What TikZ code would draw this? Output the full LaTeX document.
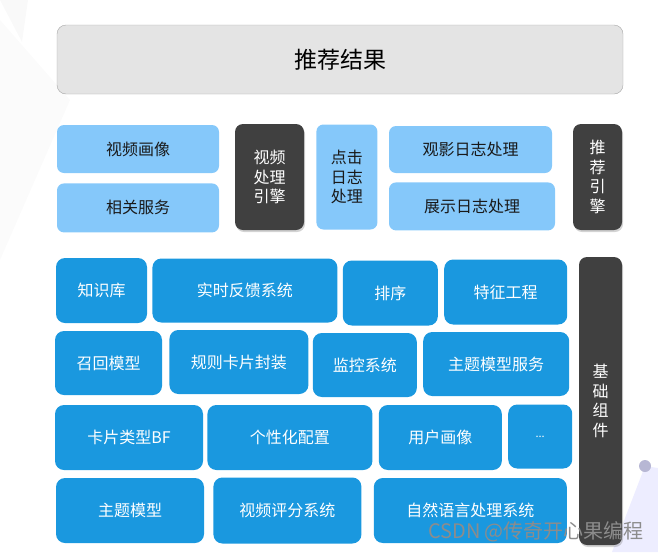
\documentclass[tikz,border=0pt]{standalone}
\usepackage{fontspec}
\setmainfont{Noto Sans CJK SC}
\usepackage{xcolor}
\usepackage{tikz}
\usetikzlibrary{positioning, shadows, backgrounds}

\definecolor{tilelight}{HTML}{85C8FA}
\definecolor{tileblue}{HTML}{1A98DF}
\definecolor{tiledark}{HTML}{404040}
\definecolor{headgray}{HTML}{E4E4E4}
\definecolor{markgray}{HTML}{8C8C8C}

\begin{document}
\begin{tikzpicture}[
    x=1pt, y=1pt,
    headbox/.style={draw=gray!70, rounded corners=9pt, fill=headgray, minimum width=566pt, minimum height=69pt, font=\fontsize{23}{26}\selectfont},
    litebox/.style={rounded corners=7pt, fill=tilelight, text=black!90, align=center, inner sep=0pt, font=\fontsize{16}{19.5}\selectfont},
    darkbox/.style={rounded corners=8pt, fill=tiledark, text=white, align=center, inner sep=0pt, font=\fontsize{16}{19.5}\selectfont, drop shadow={opacity=0.35, shadow xshift=1pt, shadow yshift=-2pt}},
    bluebox/.style={rounded corners=9pt, fill=tileblue, text=white, align=center, inner sep=0pt, font=\fontsize{16}{19.5}\selectfont}
]

\useasboundingbox (0,0) rectangle (658,-552);

\node[headbox] (res) at (340,-59.5) {推荐结果};


\node[litebox, minimum width=162pt, minimum height=48pt] (vimg) at (138,-149) {视频画像};
\node[litebox, minimum width=162pt, minimum height=49pt, below=10pt of vimg] (rsvc) {相关服务};
\node[darkbox, minimum width=69pt, minimum height=106pt] (veng) at (269.5,-177) {视频\\处理\\引擎};
\node[litebox, minimum width=61pt, minimum height=105pt, right=12pt of veng] (click) {点击\\日志\\处理};
\node[litebox, minimum width=163pt, minimum height=47pt] (watch) at (470.5,-149.5) {观影日志处理};
\node[litebox, minimum width=166pt, minimum height=48pt, below=9pt of watch.south west, anchor=north west] (show) {展示日志处理};
\node[darkbox, minimum width=49pt, minimum height=106pt] (reng) at (597.5,-177) {推\\荐\\引\\擎};


\node[bluebox, minimum width=91pt, minimum height=65pt] (know) at (101.5,-290.5) {知识库};
\node[bluebox, minimum width=185pt, minimum height=64pt, right=5pt of know] (feed) {实时反馈系统};
\node[bluebox, minimum width=95pt, minimum height=65pt, right=5pt of feed, yshift=-2.5pt] (rank) {排序};
\node[bluebox, minimum width=123pt, minimum height=65pt, right=6pt of rank, yshift=1pt] (feat) {特征工程};
\node[darkbox, minimum width=43pt, minimum height=288pt] (base) at (600.5,-401) {基\\础\\组\\件};


\node[bluebox, minimum width=107pt, minimum height=64pt] (recall) at (108.5,-363) {召回模型};
\node[bluebox, minimum width=139pt, minimum height=64pt, right=7pt of recall, yshift=1pt] (rule) {规则卡片封装};
\node[bluebox, minimum width=104pt, minimum height=64pt, right=4pt of rule, yshift=-3pt] (monitor) {监控系统};
\node[bluebox, minimum width=146pt, minimum height=64pt, right=6pt of monitor, yshift=1pt] (topicsvc) {主题模型服务};


\node[bluebox, minimum width=148pt, minimum height=65pt] (cardbf) at (129,-437.5) {卡片类型BF};
\node[bluebox, minimum width=165pt, minimum height=65pt, right=4pt of cardbf] (perso) {个性化配置};
\node[bluebox, minimum width=123pt, minimum height=65pt, right=6pt of perso] (uport) {用户画像};
\node[bluebox, minimum width=64pt, minimum height=64pt, right=6pt of uport, yshift=1pt, font=\fontsize{11}{13}\selectfont] (more) {...};


\node[bluebox, minimum width=148pt, minimum height=65pt] (topic) at (130,-510.5) {主题模型};
\node[bluebox, minimum width=148pt, minimum height=66pt, right=9pt of topic] (vscore) {视频评分系统};
\node[bluebox, minimum width=193pt, minimum height=65pt, right=12pt of vscore] (nlp) {自然语言处理系统};

\node[text=markgray, font=\fontsize{20}{22}\selectfont] (mark) at (536,-532) {CSDN @传奇开心果编程};

% faint background decoration
\begin{scope}[on background layer]
  \fill[gray!5] (0,0) -- (28,0) -- (22,-42) -- cycle;
  \fill[gray!3] (0,-20) -- (70,-100) -- (0,-260) -- cycle;
  \fill[blue!7] (645,-466) -- (658,-468) -- (658,-552) -- (612,-552) -- cycle;
  \fill[blue!25!gray!45] (645,-466) circle (6);
\end{scope}

\end{tikzpicture}
\end{document}
